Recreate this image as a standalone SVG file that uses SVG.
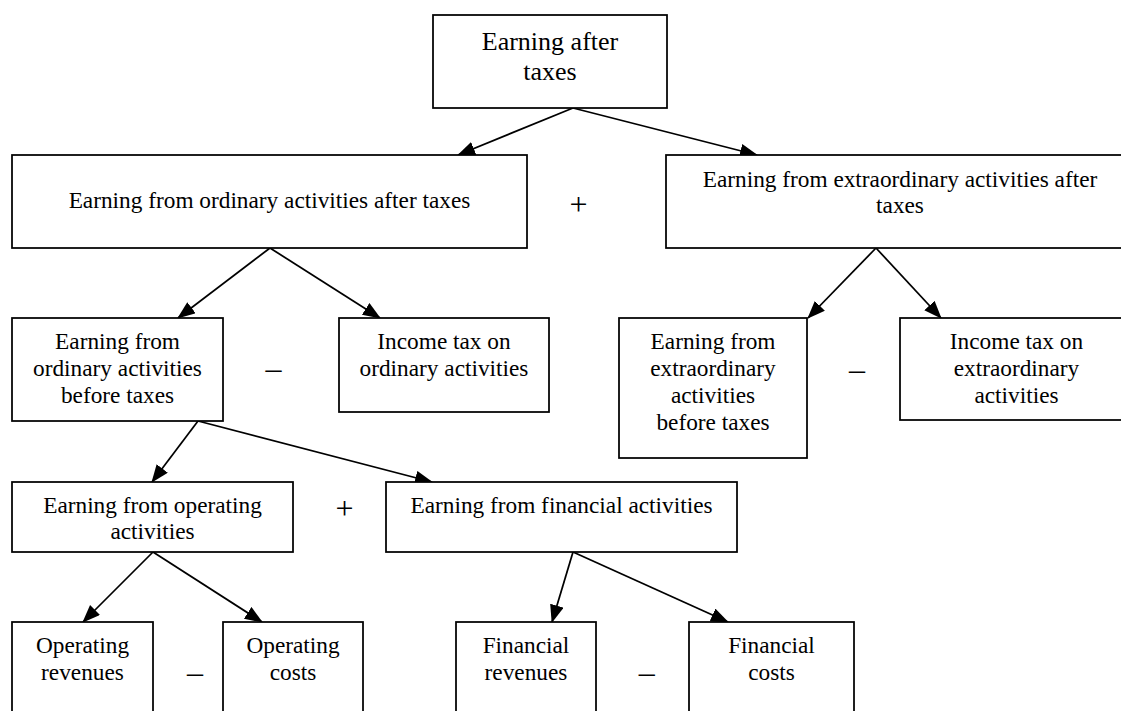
<svg xmlns="http://www.w3.org/2000/svg" width="1121" height="711" viewBox="0 0 1121 711">
  <style>
    .box { fill: #ffffff; stroke: #000000; stroke-width: 1.75; }
    .t { font-family: "Liberation Serif", "Times New Roman", serif; font-size: 23.3px; fill: #000000; text-anchor: middle; }
    .tt { font-family: "Liberation Serif", "Times New Roman", serif; font-size: 26px; fill: #000000; text-anchor: middle; }
    .op { font-family: "Liberation Serif", "Times New Roman", serif; font-size: 32px; fill: #000000; text-anchor: middle; }
    .con { stroke: #000000; stroke-width: 1.75; fill: none; marker-end: url(#arr); }
  </style>
  <defs>
    <marker id="arr" markerUnits="userSpaceOnUse" markerWidth="19" markerHeight="15" refX="17" refY="7" orient="auto">
      <path d="M0,0 L18,7 L0,14 z" fill="#000000"/>
    </marker>
  </defs>
  <rect x="0" y="0" width="1121" height="711" fill="#ffffff"/>

  <g id="connectors">
    <line class="con" x1="573" y1="108" x2="458" y2="155"/>
    <line class="con" x1="573" y1="108" x2="757" y2="155"/>
    <line class="con" x1="270" y1="248" x2="178" y2="318"/>
    <line class="con" x1="270" y1="248" x2="380" y2="318"/>
    <line class="con" x1="876" y1="248" x2="808" y2="318"/>
    <line class="con" x1="876" y1="248" x2="941" y2="318"/>
    <line class="con" x1="198" y1="421" x2="152" y2="482"/>
    <line class="con" x1="198" y1="421" x2="432" y2="482"/>
    <line class="con" x1="153" y1="552" x2="83" y2="622"/>
    <line class="con" x1="153" y1="552" x2="262" y2="622"/>
    <line class="con" x1="573" y1="552" x2="552" y2="622"/>
    <line class="con" x1="573" y1="552" x2="728" y2="622"/>
  </g>

  <g id="n-earning-after-taxes">
    <rect class="box" x="433" y="15" width="234" height="93"/>
    <text class="tt" x="550" y="50">Earning after</text>
    <text class="tt" x="550" y="80">taxes</text>
  </g>

  <g id="n-ordinary-after">
    <rect class="box" x="12" y="155" width="515" height="93"/>
    <text class="t" x="269.5" y="208">Earning from ordinary activities after taxes</text>
  </g>

  <g id="n-extraordinary-after">
    <rect class="box" x="666" y="155" width="468" height="93"/>
    <text class="t" x="900" y="187">Earning from extraordinary activities after</text>
    <text class="t" x="900" y="213">taxes</text>
  </g>

  <g id="n-ordinary-before">
    <rect class="box" x="12" y="318" width="211" height="103"/>
    <text class="t" x="117.5" y="349">Earning from</text>
    <text class="t" x="117.5" y="376">ordinary activities</text>
    <text class="t" x="117.5" y="403">before taxes</text>
  </g>

  <g id="n-income-tax-ordinary">
    <rect class="box" x="339" y="318" width="210" height="94"/>
    <text class="t" x="444" y="349">Income tax on</text>
    <text class="t" x="444" y="376">ordinary activities</text>
  </g>

  <g id="n-extraordinary-before">
    <rect class="box" x="619" y="318" width="188" height="140"/>
    <text class="t" x="713" y="349">Earning from</text>
    <text class="t" x="713" y="376">extraordinary</text>
    <text class="t" x="713" y="403">activities</text>
    <text class="t" x="713" y="430">before taxes</text>
  </g>

  <g id="n-income-tax-extraordinary">
    <rect class="box" x="900" y="318" width="233" height="102"/>
    <text class="t" x="1016.5" y="349">Income tax on</text>
    <text class="t" x="1016.5" y="376">extraordinary</text>
    <text class="t" x="1016.5" y="403">activities</text>
  </g>

  <g id="n-operating">
    <rect class="box" x="12" y="482" width="281" height="70"/>
    <text class="t" x="152.5" y="513">Earning from operating</text>
    <text class="t" x="152.5" y="539">activities</text>
  </g>

  <g id="n-financial">
    <rect class="box" x="386" y="482" width="351" height="70"/>
    <text class="t" x="561.5" y="513">Earning from financial activities</text>
  </g>

  <g id="n-operating-revenues">
    <rect class="box" x="12" y="622" width="141" height="110"/>
    <text class="t" x="82.5" y="653">Operating</text>
    <text class="t" x="82.5" y="680">revenues</text>
  </g>

  <g id="n-operating-costs">
    <rect class="box" x="223" y="622" width="140" height="110"/>
    <text class="t" x="293" y="653">Operating</text>
    <text class="t" x="293" y="680">costs</text>
  </g>

  <g id="n-financial-revenues">
    <rect class="box" x="456" y="622" width="140" height="110"/>
    <text class="t" x="526" y="653">Financial</text>
    <text class="t" x="526" y="680">revenues</text>
  </g>

  <g id="n-financial-costs">
    <rect class="box" x="689" y="622" width="165" height="110"/>
    <text class="t" x="771.5" y="653">Financial</text>
    <text class="t" x="771.5" y="680">costs</text>
  </g>

  <g id="operators">
    <text class="op" x="578.5" y="215">+</text>
    <text class="op" x="273.5" y="379">–</text>
    <text class="op" x="857" y="379.5">–</text>
    <text class="op" x="344.5" y="519">+</text>
    <text class="op" x="195" y="683">–</text>
    <text class="op" x="646.7" y="683">–</text>
  </g>
</svg>
